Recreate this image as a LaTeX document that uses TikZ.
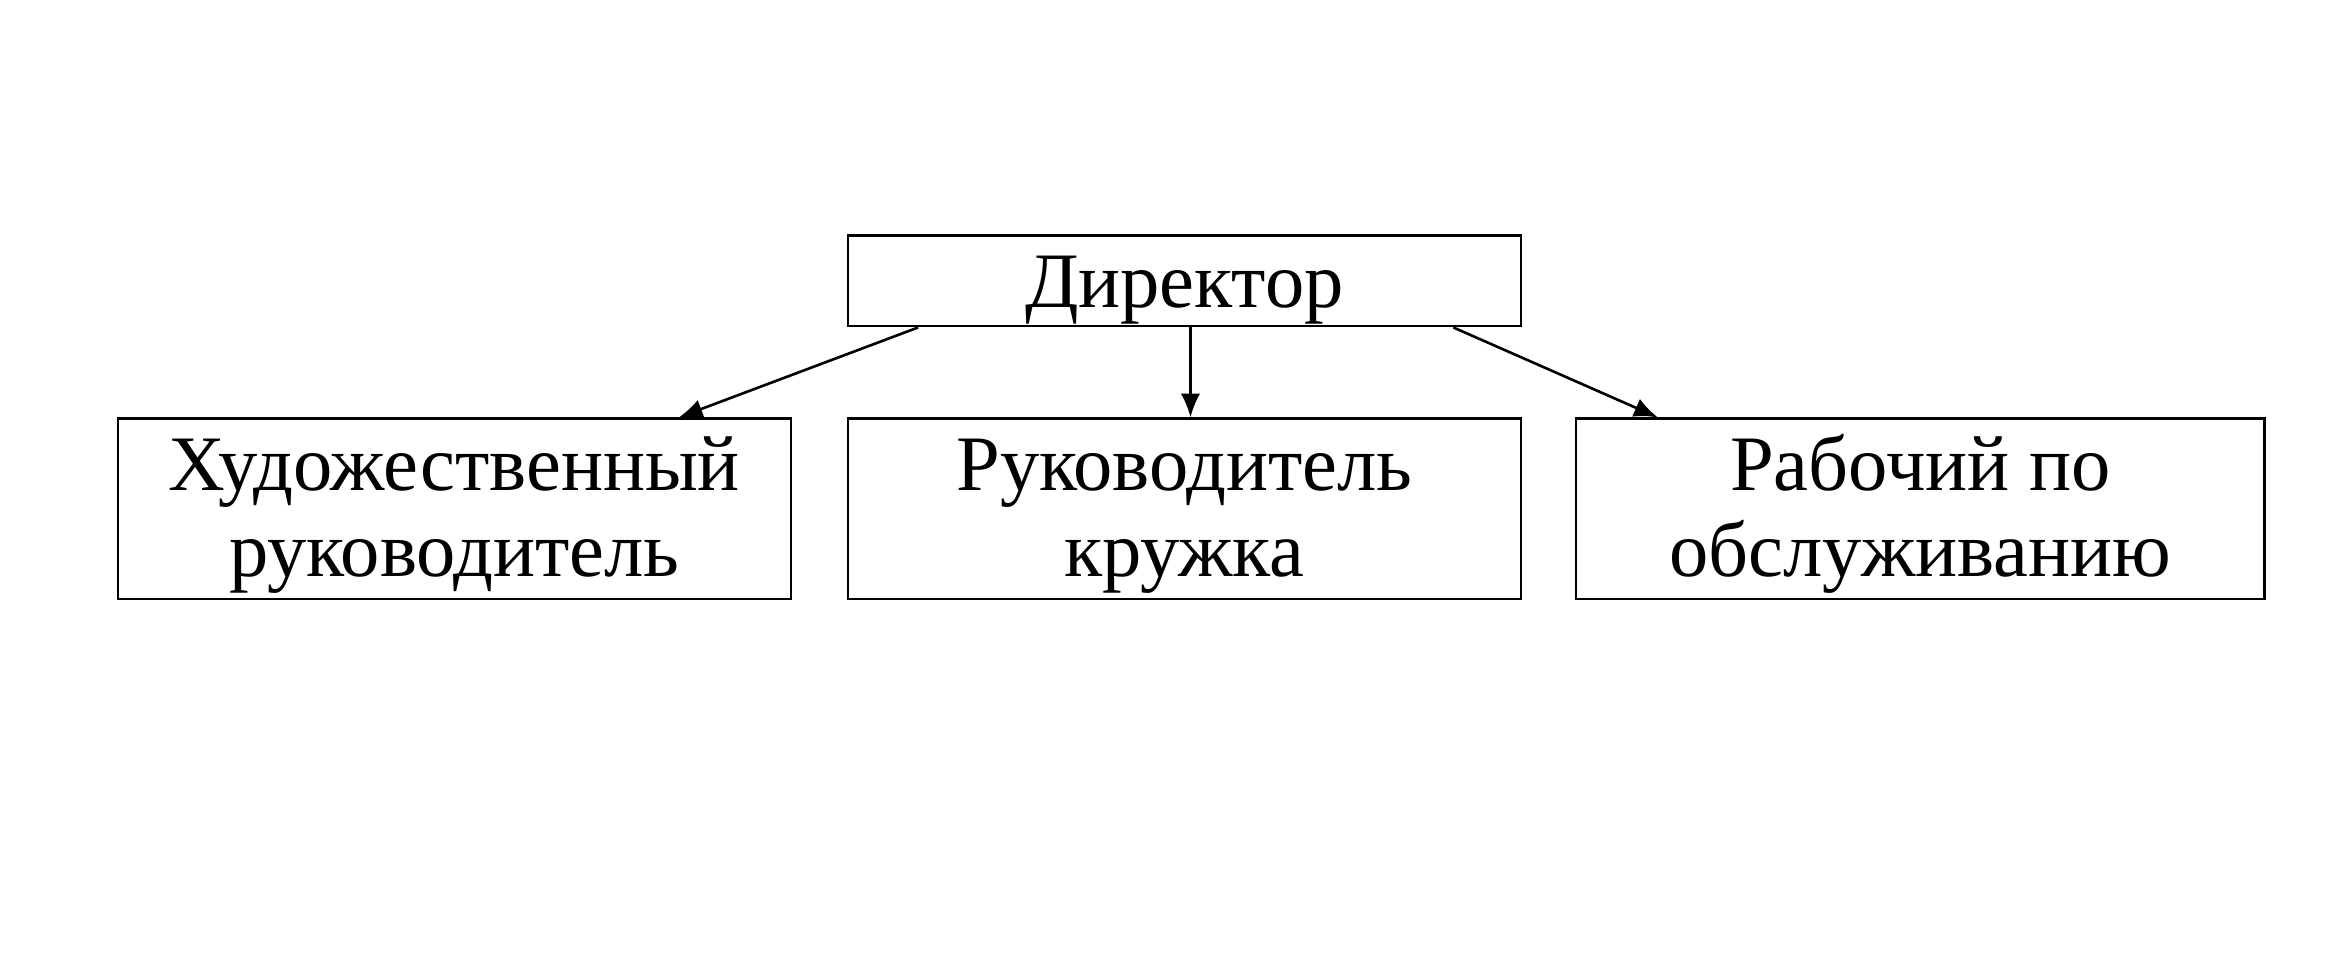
\documentclass[tikz,border=0pt]{standalone}
\usepackage{fontspec}
\setmainfont{Liberation Serif}
\usetikzlibrary{calc,arrows.meta}
\tikzset{
	post/.style={draw, line width=0.45pt, minimum height=1.21cm, inner sep=0pt, align=center, text height=28pt, text depth=2.1pt, font=\fontsize{15}{16.45}\selectfont},
	link/.style={line width=0.5pt, -{Latex[length=1.6mm,width=1.3mm]}}
}
\begin{document}
\begin{tikzpicture}
				\useasboundingbox (0,0) rectangle (15.68,6.551);
				\node[post, minimum width=4.52cm, minimum height=0.61cm, text height=12pt, text depth=2pt] (dir) at (7.95,4.666) {Директор};
				\node[post, minimum width=4.52cm] (art) at (3.05,3.136) {Художественный\\руководитель};
				\node[post, minimum width=4.52cm] (club) at (7.95,3.136) {Руководитель\\кружка};
				\node[post, minimum width=4.62cm] (work) at (12.89,3.136) {Рабочий по\\обслуживанию};
				\draw[link] ($(dir.south west)!0.106!(dir.south east)$) -- ($(art.north west)!0.832!(art.north east)$);
				\draw[link] ($(dir.south west)!0.509!(dir.south east)$) -- ($(club.north west)!0.509!(club.north east)$);
				\draw[link] ($(dir.south west)!0.898!(dir.south east)$) -- ($(work.north west)!0.12!(work.north east)$);
			\end{tikzpicture}
\end{document}
